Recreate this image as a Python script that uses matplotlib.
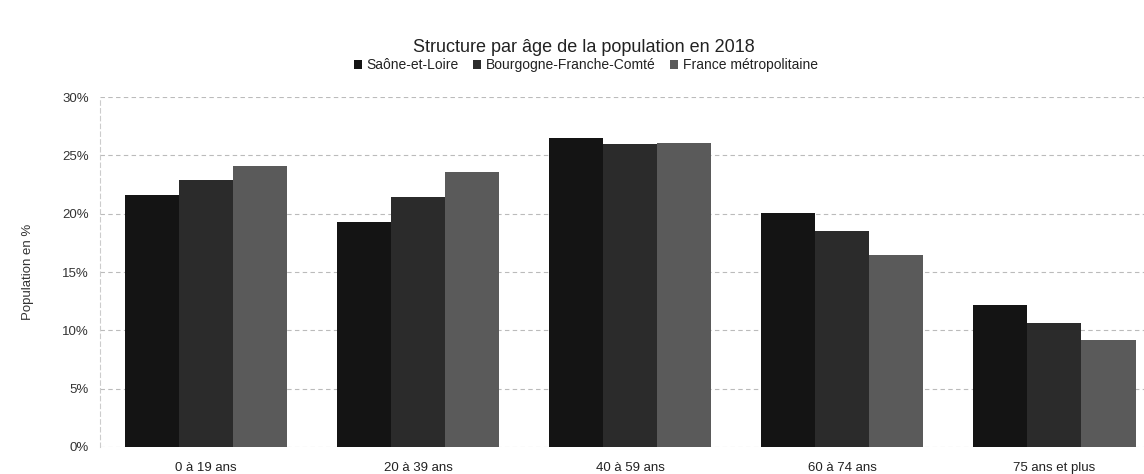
import matplotlib
matplotlib.use("Agg")
import matplotlib.pyplot as plt
import numpy as np

categories = ["0 à 19 ans", "20 à 39 ans", "40 à 59 ans", "60 à 74 ans", "75 ans et plus"]
series_names = ["Saône-et-Loire", "Bourgogne-Franche-Comté", "France métropolitaine"]
saone = [21.6, 19.3, 26.5, 20.1, 12.2]
bfc = [22.9, 21.4, 26.0, 18.5, 10.6]
france = [24.1, 23.6, 26.1, 16.5, 9.2]
yticks = [0, 5, 10, 15, 20, 25, 30]
ytick_labels = ["0%", "5%", "10%", "15%", "20%", "25%", "30%"]
colors = ["#141414", "#2b2b2b", "#5a5a5a"]

plt.rcParams['font.family'] = ['Liberation Sans', 'DejaVu Sans']

fig = plt.figure(figsize=(11.44, 4.74), dpi=100)
ax = fig.add_axes([0.0874, 0.057, 0.927, 0.738])

x = np.arange(len(categories))
w = 0.255
for i, (vals, c, name) in enumerate(zip([saone, bfc, france], colors, series_names)):
    ax.bar(x + (i - 1) * w, vals, width=w, color=c, label=name, zorder=3)

ax.set_xlim(-0.5, len(categories) - 0.5)
ax.set_ylim(0, 30)
ax.set_yticks(yticks)
ax.set_yticklabels(ytick_labels, fontsize=9.5, color="#333333")
ax.set_xticks(x)
ax.set_xticklabels(categories, fontsize=9.5, color="#222222")
ax.tick_params(axis='y', length=0, pad=8)
ax.tick_params(axis='x', length=0, pad=11)
ax.grid(axis='y', color="#bbbbbb", linestyle=(0, (4, 3)), linewidth=0.8, zorder=0)
for s in ["top", "right", "bottom"]:
    ax.spines[s].set_visible(False)
ax.spines["left"].set_color("#cccccc")
ax.spines["left"].set_linestyle((0, (4, 3)))
ax.set_ylabel("Population en %", fontsize=9.5, color="#333333", labelpad=20)

fig.text(0.510, 0.900, "Structure par âge de la population en 2018", ha="center", va="center",
         fontsize=13, color="#222222")
fig.legend(loc="center", bbox_to_anchor=(0.512, 0.862), ncol=3, frameon=False, fontsize=10,
           handlelength=0.6, handleheight=0.6, handletextpad=0.35, columnspacing=1.0,
           labelcolor="#222222")

fig.savefig("out.png", dpi=100)
